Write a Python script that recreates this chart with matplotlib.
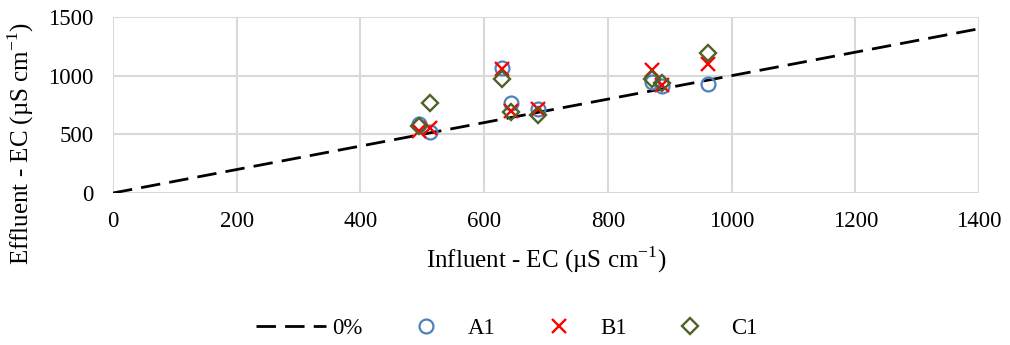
import numpy as np
import matplotlib
matplotlib.use("Agg")
import matplotlib.pyplot as plt

plt.rcParams['font.family'] = ['Liberation Serif', 'DejaVu Serif']
plt.rcParams['mathtext.fontset'] = 'custom'
plt.rcParams['mathtext.rm'] = 'Liberation Serif'

# influent / effluent EC (µS cm-1)
influent = [495, 512, 629, 644, 687, 872, 887, 962]
a1 = [588, 520, 1063, 764, 713, 949, 915, 929]
b1 = [530, 556, 1060, 701, 713, 1048, 921, 1097]
c1 = [571, 765, 969, 693, 665, 972, 935, 1191]
ref_line = [0, 1400]

fs = 16.5
fs_title = 18

fig = plt.figure(figsize=(10.1, 3.45), dpi=100)
ax = fig.add_axes([0.1119, 0.4406, 0.8574, 0.5101])

ax.plot(ref_line, ref_line, color='black', ls=(0, (7, 3.3)), lw=2, label='0%')
ax.plot(influent, a1, 'o', ms=10, mfc='none', mec='#4F81BD', mew=1.6, label='A1')
ax.plot(influent, b1, 'x', ms=10, mec='#FF0000', mew=1.7, label='B1')
ax.plot(influent, c1, 'D', ms=8, mfc='none', mec='#4F6228', mew=1.7, label='C1')

ax.set_xlim(0, 1400)
ax.set_ylim(0, 1500)
ax.set_xticks(np.arange(0, 1401, 200))
ax.set_yticks(np.arange(0, 1501, 500))
ax.grid(True, color='#d9d9d9', lw=1.5)
ax.set_axisbelow(True)
for s in ax.spines.values():
    s.set_visible(False)
ax.tick_params(axis='x', length=0, labelsize=fs, pad=13)
ax.tick_params(axis='y', length=0, labelsize=fs, pad=14)

ax.set_xlabel(r'Influent - EC (µS cm$^{-1}$)', fontsize=fs_title, labelpad=9)
# y title sits a bit lower than the plot centre so it stays inside the figure
fig.text(21 / 1010, 1 - 143 / 345, r'Effluent - EC (µS cm$^{-1}$)', fontsize=fs_title,
         rotation=90, ha='center', va='center')

fig.legend(loc='center', bbox_to_anchor=(0.502, 1 - 328 / 345), ncol=4, frameon=False,
           fontsize=fs, handlelength=3.05, columnspacing=1.24, handletextpad=0.28)

fig.savefig('out.png', dpi=100)
